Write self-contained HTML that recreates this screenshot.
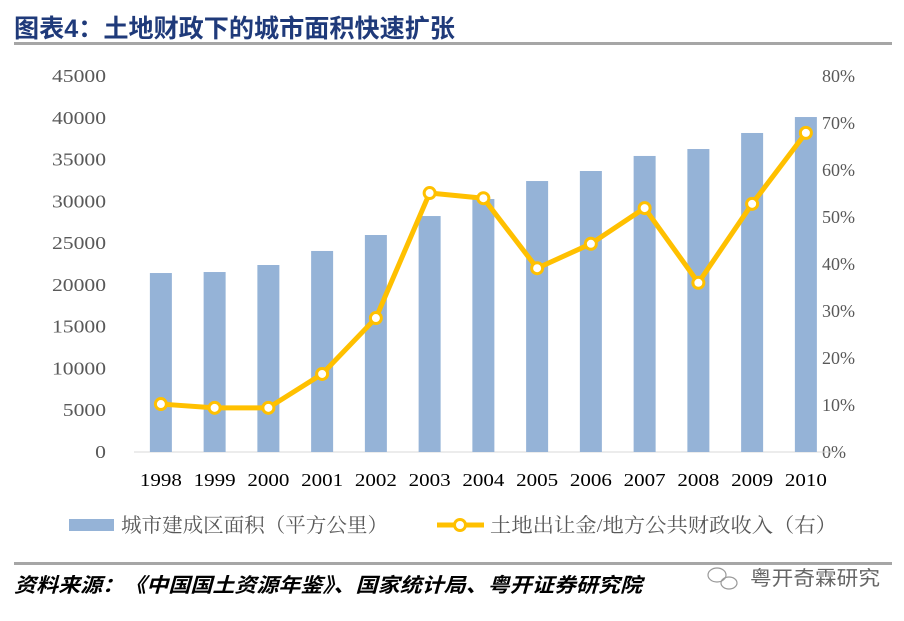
<!DOCTYPE html>
<html><head><meta charset="utf-8"><style>
body{margin:0;width:904px;height:616px;background:#fff;overflow:hidden;font-family:"Liberation Serif","Noto Serif CJK SC",serif}
</style></head><body>
<svg width="904" height="616" xmlns="http://www.w3.org/2000/svg" id="chart">
<text x="14" y="37" textLength="441" lengthAdjust="spacingAndGlyphs" font-family="Liberation Sans,'Noto Sans CJK SC',sans-serif" font-weight="bold" font-size="25" fill="#1f3a7a">图表4：土地财政下的城市面积快速扩张</text>
<rect x="14" y="42" width="878" height="3" fill="#a6a6a6"/>
<g id="plot"></g>
<g>
<rect x="69" y="519" width="45" height="12" fill="#95b3d7"/>
<text x="121" y="532" textLength="267" lengthAdjust="spacingAndGlyphs" font-size="20" fill="#595959">城市建成区面积（平方公里）</text>
<line x1="437" y1="525" x2="484" y2="525" stroke="#ffc000" stroke-width="5"/>
<circle cx="460" cy="525" r="5.5" fill="#fff" stroke="#ffc000" stroke-width="3"/>
<text x="490" y="532" textLength="347" lengthAdjust="spacingAndGlyphs" font-size="20" fill="#595959">土地出让金/地方公共财政收入（右）</text>
</g>
<rect x="14" y="562" width="878" height="3" fill="#a6a6a6"/>
<text x="14" y="592" textLength="628" lengthAdjust="spacingAndGlyphs" font-family="Liberation Sans,'Noto Sans CJK SC',sans-serif" font-style="italic" font-weight="bold" font-size="20" fill="#000">资料来源：《中国国土资源年鉴》、国家统计局、粤开证券研究院</text>
<g>
<ellipse cx="717" cy="575" rx="9" ry="7" fill="none" stroke="#999" stroke-width="1.2"/>
<ellipse cx="729" cy="583" rx="8" ry="6" fill="none" stroke="#999" stroke-width="1.2"/>
<text x="750" y="585" textLength="130" lengthAdjust="spacingAndGlyphs" font-family="Liberation Sans,'Noto Sans CJK SC',sans-serif" font-size="20" fill="#666">粤开奇霖研究</text>
</g>
</svg>
<script>
const years=["1998","1999","2000","2001","2002","2003","2004","2005","2006","2007","2008","2009","2010"];
const area=[21420,21540,22380,24060,25970,28240,30280,32430,33630,35430,36260,38180,40090];
const ratio=[10.2,9.4,9.4,16.6,28.5,55.1,54.0,39.1,44.3,51.9,36.0,52.8,67.9];
const leftTicks=[0,5000,10000,15000,20000,25000,30000,35000,40000,45000];
const rightTicks=["0%","10%","20%","30%","40%","50%","60%","70%","80%"];
const NS="http://www.w3.org/2000/svg";
const g=document.getElementById('plot');
const y0=452,y1=76,x0=134,step=53.75;
const yL=v=>y0-(v/45000)*(y0-y1);
const yR=v=>y0-(v/80)*(y0-y1);
const xC=i=>x0+step*(i+0.5);
function mk(t,a){const e=document.createElementNS(NS,t);for(const k in a)e.setAttribute(k,a[k]);g.appendChild(e);return e;}
leftTicks.forEach((v,i)=>{const s=String(v);const t=mk('text',{x:106,y:yL(v)+6,'text-anchor':'end','font-size':18,fill:'#595959',textLength:s.length*10.8,lengthAdjust:'spacingAndGlyphs'});t.textContent=s;

});
rightTicks.forEach((s,i)=>{const t=mk('text',{x:822,y:yR(i*10)+6,'font-size':18,fill:'#595959'});t.textContent=s;

});
const ax=mk('line',{x1:x0,y1:y0,x2:x0+step*years.length,y2:y0,stroke:'#d9d9d9','stroke-width':1});


years.forEach((yr,i)=>{
const b=mk('rect',{x:xC(i)-11,y:yL(area[i]),width:22,height:y0-yL(area[i]),fill:'#95b3d7'});


const t=mk('text',{x:xC(i),y:486,'text-anchor':'middle','font-size':18,fill:'#000',textLength:42,lengthAdjust:'spacingAndGlyphs'});t.textContent=yr;


});
const pl=mk('polyline',{points:ratio.map((v,i)=>xC(i)+','+yR(v)).join(' '),fill:'none',stroke:'#ffc000','stroke-width':5,'stroke-linejoin':'round'});


ratio.forEach((v,i)=>{const c=mk('circle',{cx:xC(i),cy:yR(v),r:5.5,fill:'#fff',stroke:'#ffc000','stroke-width':3});

});
</script>
</body></html>
